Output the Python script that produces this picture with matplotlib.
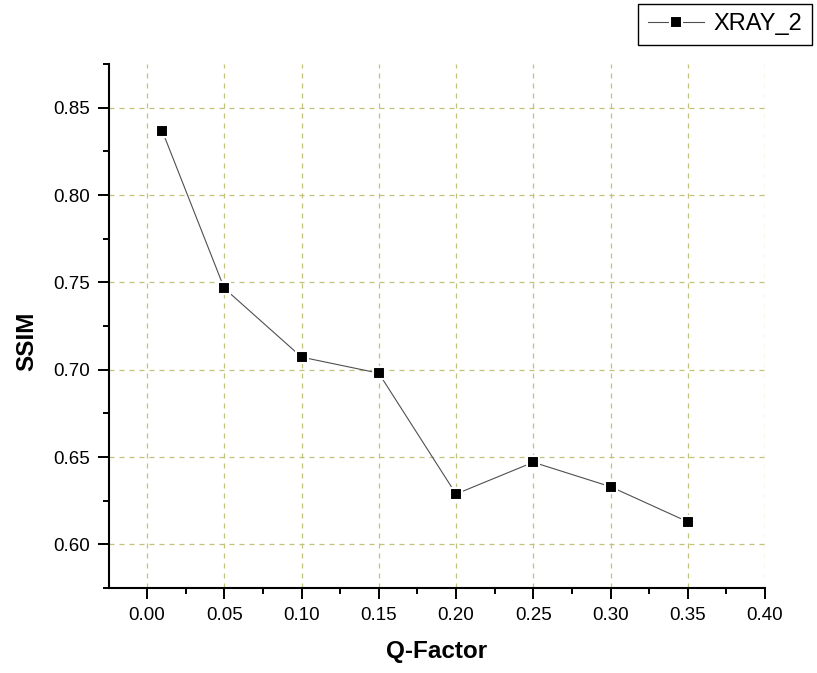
import numpy as np
import matplotlib.pyplot as plt
from matplotlib.ticker import MultipleLocator

plt.rcParams['font.family'] = ['Liberation Sans', 'DejaVu Sans']

# data
q_factor = [0.01, 0.05, 0.10, 0.15, 0.20, 0.25, 0.30, 0.35]
ssim = [0.8364, 0.7466, 0.7072, 0.698, 0.6288, 0.647, 0.633, 0.6129]

fig = plt.figure(figsize=(8.17, 6.73), dpi=100)
ax = fig.add_axes([0.1334, 0.1263, 0.8030, 0.7786])

ax.plot(q_factor, ssim, color='#505050', lw=0.8, marker='s', ms=9,
        mfc='black', mec='white', mew=1.5, label='XRAY_2', zorder=3)

ax.set_xlim(-0.0246, 0.40)
ax.set_ylim(0.575, 0.875)

ax.xaxis.set_minor_locator(MultipleLocator(0.025))
ax.yaxis.set_minor_locator(MultipleLocator(0.025))
ax.set_xticks(np.arange(0, 0.401, 0.05))
ax.set_yticks(np.arange(0.60, 0.851, 0.05))
ax.xaxis.set_major_formatter(plt.FormatStrFormatter('%.2f'))
ax.yaxis.set_major_formatter(plt.FormatStrFormatter('%.2f'))

ax.tick_params(which='major', direction='out', length=8, width=1.4, labelsize=13.5, pad=5.5)
ax.tick_params(which='minor', direction='out', length=4.5, width=1.4)

for s in ['top', 'right']:
    ax.spines[s].set_visible(False)
for s in ['left', 'bottom']:
    ax.spines[s].set_linewidth(1.5)

ax.grid(True, which='major', color='#c2c27a', linestyle=(0, (4, 4)), lw=0.9)
ax.set_axisbelow(True)

ax.set_xlabel('Q-Factor', fontsize=17.5, fontweight='bold')
ax.set_ylabel('SSIM', fontsize=17.5, fontweight='bold')
ax.xaxis.set_label_coords(0.5, -0.10)
ax.yaxis.set_label_coords(-0.108, 0.47)

leg = fig.legend(loc='upper right', bbox_to_anchor=(0.9939, 0.994), fontsize=17,
                 numpoints=1, fancybox=False, edgecolor='black', framealpha=1,
                 handlelength=2.4, borderpad=0.4, handletextpad=0.4,
                 borderaxespad=0)
leg.get_frame().set_linewidth(1.0)

plt.savefig('out.png', dpi=100)
